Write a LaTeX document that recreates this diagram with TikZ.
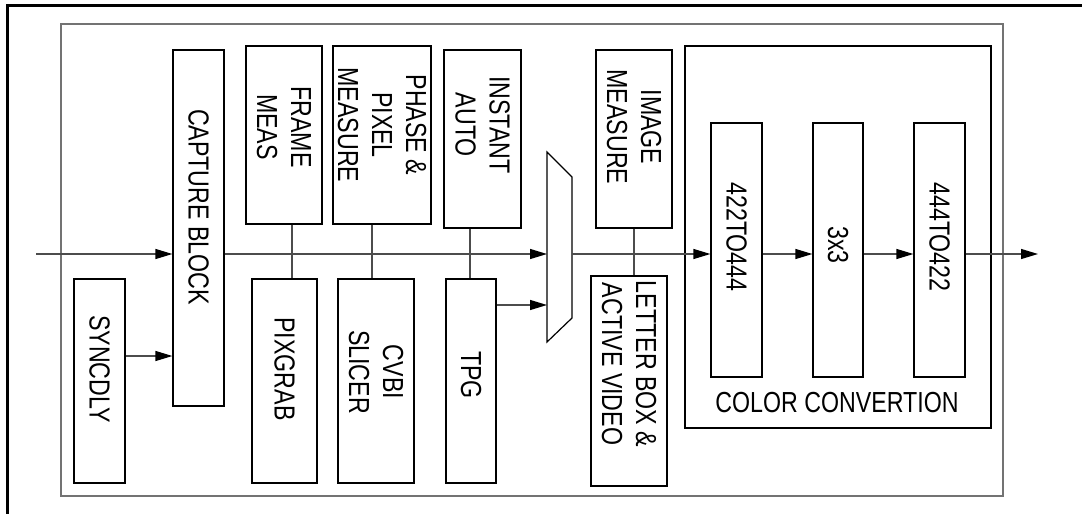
\documentclass[tikz,border=0pt]{standalone}
\usepackage{fontspec}
\usetikzlibrary{arrows.meta,calc}
\newfontfamily\lbl[FakeStretch=0.8]{Liberation Sans}

\begin{document}
\begin{tikzpicture}[x=0.5pt,y=-0.5pt,
  every node/.style={font=\lbl\fontsize{14.5}{17}\selectfont},
  blk/.style={draw,line width=0.6pt,inner sep=0pt},
  vtxt/.style={rotate=-90,align=center,inner sep=0pt},
  arr/.style={-{Triangle[length=8.5pt,width=5pt,color=black]},line width=0.6pt,black!70},
  link/.style={line width=0.6pt,black!70},
]
\useasboundingbox (0,0) rectangle (1082,514);

% frames
\draw[line width=1.5pt] (7,514) -- (7,5) -- (1082,5);
\draw[line width=0.8pt,black!55] (61,24) rectangle (1003,496);

% capture side
\node[blk,minimum width=25.5pt,minimum height=178pt,
      label={[yshift=10.5pt,vtxt]center:CAPTURE BLOCK}] (cap) at (198.5,228) {};
\node[blk,minimum width=25.5pt,minimum height=102pt,
      label={[yshift=6pt,vtxt]center:SYNCDLY}] (syn) at (99.5,381) {};

% measure blocks (top row)
\node[blk,minimum width=38pt,minimum height=89pt,
      label={[yshift=4pt,vtxt]center:FRAME\\MEAS}] (frm) at (284,135) {};
\node[blk,minimum width=49pt,minimum height=89pt,
      label={[yshift=5pt,vtxt]center:PHASE \&\\PIXEL\\MEASURE}] (phs) at (382,135) {};
\node[blk,minimum width=38.5pt,minimum height=89pt,
      label={[yshift=7pt,vtxt]center:INSTANT\\AUTO}] (ins) at (482.5,139) {};
\node[blk,minimum width=38pt,minimum height=89pt,
      label={[yshift=6pt,vtxt]center:IMAGE\\MEASURE}] (img) at (634,139) {};

% bottom row
\node[blk,minimum width=32.5pt,minimum height=102pt,
      label={[yshift=6pt,vtxt]center:PIXGRAB}] (pix) at (284.5,381) {};
\node[blk,minimum width=38pt,minimum height=102pt,
      label={[yshift=4.5pt,vtxt]center:CVBI\\SLICER}] (cvb) at (376,381) {};
\node[blk,minimum width=25pt,minimum height=102pt,
      label={[yshift=3pt,vtxt]center:TPG}] (tpg) at (471,381) {};
\node[blk,minimum width=38pt,minimum height=105pt,
      label={[yshift=8.5pt,vtxt]center:LETTER BOX \&\\ACTIVE VIDEO}] (ltr) at (629,381) {};

% mux
\coordinate (mux-a) at (547,254);
\coordinate (mux-b) at (547,305);
\coordinate (mux-o) at (572,254);
\draw[line width=0.6pt] (547,152) -- (572,177) -- (572,318) -- (547,342) -- cycle;

% color convertion
\node[blk,minimum width=153pt,minimum height=191pt] (ccv) at (838,237) {};
\node (ccvt) at (837,403) {COLOR CONVERTION};
\node[blk,minimum width=25.5pt,minimum height=127pt,
      label={[yshift=6.5pt,vtxt]center:422TO444}] (c1) at (736.5,250) {};
\node[blk,minimum width=25pt,minimum height=127pt,
      label={[yshift=2.5pt,vtxt]center:3x3}] (c2) at (838,250) {};
\node[blk,minimum width=25.5pt,minimum height=127pt,
      label={[yshift=6.5pt,vtxt]center:444TO422}] (c3) at (939.5,250) {};

\coordinate (in) at (36,254);
\coordinate (out) at (1038,254);

% data path
\draw[arr] (in) -- (in -| cap.west);
\draw[arr] ([yshift=12.5pt]syn.east) -- ([yshift=12.5pt]syn.east -| cap.west);
\draw[arr] (cap.east |- in) -- (mux-a);
\draw[arr] (tpg.east |- mux-b) -- (mux-b);
\draw[arr] (mux-o) -- (mux-o -| c1.west);
\draw[arr] (c1.east |- in) -- (c2.west |- in);
\draw[arr] (c2.east |- in) -- (c3.west |- in);
\draw[arr] (c3.east |- in) -- (out);

% side links
\draw[link] ([xshift=4pt]frm.south) -- ([xshift=4pt]frm.south |- pix.north);
\draw[link] ([xshift=-5pt]phs.south) -- ([xshift=-5pt]phs.south |- cvb.north);
\draw[link] ([xshift=-6.25pt]ins.south) -- ([xshift=-6.25pt]ins.south |- tpg.north);
\draw[link] (img.south) -- (img.south |- ltr.north);
\end{tikzpicture}
\end{document}
